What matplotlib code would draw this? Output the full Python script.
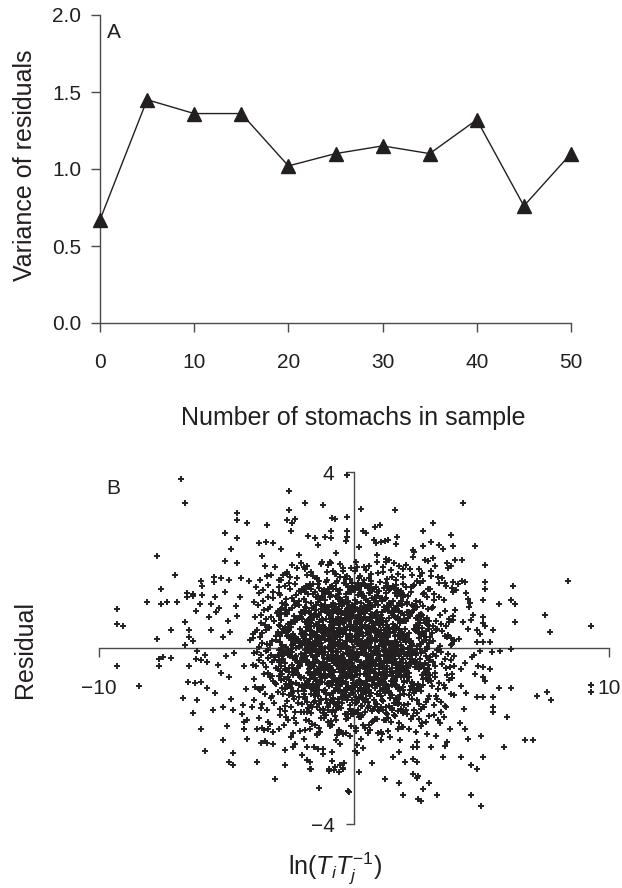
import matplotlib
matplotlib.use("Agg")
import matplotlib.pyplot as plt

# ---- panel A: variance of residuals vs sample size ----
stomachs = [0, 5, 10, 15, 20, 25, 30, 35, 40, 45, 50]
variance = [0.67, 1.45, 1.36, 1.36, 1.02, 1.10, 1.15, 1.10, 1.32, 0.76, 1.10]
a_xticks = [0, 10, 20, 30, 40, 50]
a_yticks = [0.0, 0.5, 1.0, 1.5, 2.0]

# ---- panel B: residuals vs ln(Ti/Tj), estimated from the figure ----
# dense centre, one line per 1.0 x 0.5 cell
core_x = [
    # upper right
    0.12, 0.47, 0.83, 0.31, 0.66, 0.05, 0.94, 0.52, 0.21, 0.74, 0.38, 0.89, 0.15, 0.58, 0.27, 0.71, 0.43, 0.97, 0.09, 0.62, 0.35,
    0.07, 0.44, 0.81, 0.26, 0.63, 0.95, 0.18, 0.55, 0.33, 0.72, 0.02, 0.49, 0.88, 0.23, 0.67, 0.39, 0.91, 0.14,
    0.16, 0.53, 0.87, 0.34, 0.71, 0.04, 0.61, 0.28, 0.96, 0.45, 0.79,
    0.22, 0.68, 0.41, 0.93, 0.09, 0.57,
    1.05, 1.38, 1.72, 1.19, 1.56, 1.91, 1.27, 1.64, 1.83, 1.11, 1.47, 1.99, 1.33, 1.68, 1.02, 1.59, 1.86, 1.24,
    1.13, 1.49, 1.82, 1.28, 1.61, 1.04, 1.95, 1.37, 1.74, 1.21, 1.53, 1.88, 1.09, 1.66,
    1.08, 1.43, 1.77, 1.26, 1.62, 1.94, 1.35, 1.51, 1.86, 1.17,
    1.31, 1.74, 1.12, 1.58, 1.92, 1.45,
    2.08, 2.46, 2.81, 2.23, 2.67, 2.95, 2.14, 2.53, 2.88, 2.36, 2.72, 2.02,
    2.18, 2.57, 2.92, 2.33, 2.74, 2.06, 2.45, 2.85, 2.27, 2.63,
    2.12, 2.58, 2.91, 2.37, 2.76, 2.24,
    2.29, 2.71, 2.05, 2.54,
    3.11, 3.46, 3.82, 3.27, 3.65, 3.04, 3.93,
    3.22, 3.58, 3.89, 3.07, 3.41, 3.73,
    3.15, 3.52, 3.86, 3.34,
    3.28, 3.67,
    # upper left
    -0.09, -0.41, -0.76, -0.23, -0.58, -0.94, -0.15, -0.67, -0.32, -0.85, -0.04, -0.49, -0.71, -0.19, -0.62, -0.98, -0.36, -0.53, -0.81, -0.27, -0.45, -0.88,
    -0.13, -0.52, -0.86, -0.29, -0.64, -0.97, -0.06, -0.43, -0.78, -0.21, -0.59, -0.92, -0.35, -0.71, -0.17, -0.48, -0.83,
    -0.24, -0.61, -0.93, -0.08, -0.47, -0.82, -0.33, -0.69, -0.15, -0.55, -0.99,
    -0.31, -0.74, -0.12, -0.56, -0.89, -0.42, -0.67,
    -1.03, -1.36, -1.69, -1.21, -1.54, -1.88, -1.12, -1.47, -1.79, -1.28, -1.63, -1.95, -1.07, -1.41, -1.74, -1.17, -1.58, -1.91,
    -1.09, -1.44, -1.77, -1.22, -1.57, -1.93, -1.31, -1.66, -1.02, -1.49, -1.84, -1.15, -1.38, -1.71, -1.97,
    -1.14, -1.52, -1.87, -1.26, -1.68, -1.03, -1.41, -1.79, -1.33, -1.95,
    -1.06, -1.47, -1.83, -1.24, -1.62, -1.91, -1.38,
    -2.04, -2.39, -2.73, -2.18, -2.56, -2.91, -2.27, -2.64, -2.97, -2.11, -2.48, -2.83, -2.33,
    -2.09, -2.47, -2.82, -2.26, -2.61, -2.95, -2.15, -2.54, -2.88, -2.36, -2.71,
    -2.16, -2.52, -2.89, -2.31, -2.68, -2.07, -2.94,
    -2.23, -2.61, -2.94, -2.42, -2.78,
    -3.06, -3.43, -3.79, -3.21, -3.62, -3.95, -3.33, -3.71,
    -3.13, -3.51, -3.87, -3.28, -3.66, -3.02, -3.44,
    -3.18, -3.57, -3.91, -3.36, -3.74,
    -3.25, -3.69, -3.48,
    # lower left
    -0.06, -0.39, -0.72, -0.18, -0.55, -0.91, -0.27, -0.63, -0.96, -0.11, -0.47, -0.84, -0.34, -0.68, -0.02, -0.51, -0.79, -0.22, -0.58, -0.87, -0.43,
    -0.14, -0.49, -0.83, -0.26, -0.61, -0.94, -0.08, -0.42, -0.77, -0.31, -0.66, -0.99, -0.19, -0.54, -0.88, -0.37, -0.72, -0.03,
    -0.21, -0.57, -0.89, -0.04, -0.38, -0.73, -0.16, -0.52, -0.95, -0.29, -0.64, -0.82,
    -0.33, -0.76, -0.11, -0.58, -0.92, -0.45, -0.24,
    -1.07, -1.42, -1.76, -1.19, -1.55, -1.89, -1.31, -1.64, -1.97, -1.13, -1.48, -1.82, -1.25, -1.59, -1.04, -1.37, -1.71, -1.93,
    -1.11, -1.46, -1.81, -1.27, -1.63, -1.98, -1.05, -1.39, -1.72, -1.18, -1.54, -1.89, -1.33, -1.67, -1.92,
    -1.09, -1.44, -1.79, -1.22, -1.58, -1.93, -1.35, -1.69, -1.01, -1.51, -1.86,
    -1.16, -1.53, -1.87, -1.34, -1.71, -1.02,
    -2.07, -2.43, -2.78, -2.21, -2.59, -2.93, -2.14, -2.51, -2.86, -2.32, -2.69, -2.98,
    -2.12, -2.48, -2.84, -2.27, -2.63, -2.96, -2.38, -2.73, -2.05, -2.55,
    -2.19, -2.56, -2.91, -2.34, -2.72, -2.08, -2.45,
    -2.26, -2.67, -2.93, -2.41,
    -3.09, -3.45, -3.81, -3.23, -3.64, -3.97, -3.36, -3.72,
    -3.16, -3.53, -3.88, -3.31, -3.69, -3.04,
    -3.21, -3.62, -3.94, -3.43,
    -3.29, -3.74, -3.51,
    # lower right
    0.04, 0.37, 0.71, 0.19, 0.54, 0.88, 0.26, 0.63, 0.97, 0.11, 0.46, 0.82, 0.33, 0.68, 0.02, 0.57, 0.93, 0.24, 0.49, 0.76, 0.15, 0.85,
    0.11, 0.46, 0.79, 0.23, 0.58, 0.93, 0.06, 0.41, 0.74, 0.29, 0.64, 0.97, 0.17, 0.52, 0.86, 0.35, 0.69, 0.03,
    0.19, 0.55, 0.91, 0.07, 0.42, 0.77, 0.28, 0.63, 0.96, 0.13, 0.49, 0.84,
    0.27, 0.71, 0.08, 0.53, 0.89, 0.36, 0.62,
    1.03, 1.39, 1.74, 1.16, 1.52, 1.87, 1.28, 1.61, 1.95, 1.09, 1.45, 1.81, 1.22, 1.57, 1.91, 1.34, 1.68, 1.06,
    1.07, 1.43, 1.78, 1.24, 1.59, 1.94, 1.12, 1.47, 1.83, 1.31, 1.66, 1.02, 1.38, 1.73, 1.96,
    1.14, 1.49, 1.85, 1.27, 1.63, 1.97, 1.36, 1.71, 1.05, 1.56,
    1.19, 1.57, 1.92, 1.35, 1.76, 1.08,
    2.03, 2.41, 2.76, 2.19, 2.57, 2.92, 2.28, 2.64, 2.98, 2.12, 2.49, 2.84,
    2.14, 2.52, 2.87, 2.31, 2.68, 2.07, 2.43, 2.79, 2.24, 2.96,
    2.17, 2.55, 2.89, 2.36, 2.73, 2.09, 2.47,
    2.22, 2.63, 2.95, 2.44, 2.81,
    3.08, 3.44, 3.79, 3.26, 3.61, 3.93, 3.17,
    3.19, 3.55, 3.86, 3.33, 3.71, 3.05,
    3.24, 3.59, 3.92, 3.41, 3.12,
    3.31, 3.76, 3.54,
]
core_y = [
    # upper right
    0.08, 0.33, 0.17, 0.45, 0.02, 0.26, 0.39, 0.11, 0.21, 0.48, 0.06, 0.29, 0.41, 0.14, 0.36, 0.23, 0.47, 0.04, 0.18, 0.42, 0.27,
    0.62, 0.91, 0.54, 0.77, 0.69, 0.58, 0.85, 0.97, 0.51, 0.73, 0.88, 0.64, 0.79, 0.56, 0.93, 0.71, 0.82, 0.67,
    1.21, 1.07, 1.38, 1.46, 1.13, 1.32, 1.02, 1.27, 1.19, 1.43, 1.09,
    1.63, 1.52, 1.84, 1.71, 1.95, 1.58,
    0.41, 0.12, 0.29, 0.03, 0.37, 0.22, 0.46, 0.09, 0.33, 0.19, 0.01, 0.44, 0.26, 0.14, 0.31, 0.48, 0.07, 0.38,
    0.58, 0.83, 0.66, 0.94, 0.51, 0.76, 0.62, 0.99, 0.71, 0.87, 0.55, 0.79, 0.68, 0.92,
    1.12, 1.34, 1.03, 1.47, 1.24, 1.16, 1.41, 1.06, 1.29, 1.37,
    1.56, 1.68, 1.83, 1.93, 1.61, 1.77,
    0.27, 0.05, 0.39, 0.17, 0.46, 0.11, 0.34, 0.23, 0.02, 0.43, 0.31, 0.14,
    0.72, 0.56, 0.88, 0.95, 0.64, 0.81, 0.53, 0.69, 0.98, 0.77,
    1.18, 1.05, 1.33, 1.44, 1.26, 1.39,
    1.65, 1.53, 1.88, 1.79,
    0.16, 0.38, 0.07, 0.44, 0.25, 0.33, 0.19,
    0.61, 0.84, 0.73, 0.92, 0.55, 0.67,
    1.23, 1.08, 1.36, 1.47,
    1.62, 1.81,
    # upper left
    0.14, 0.37, 0.05, 0.28, 0.46, 0.19, 0.41, 0.09, 0.32, 0.24, 0.48, 0.02, 0.35, 0.21, 0.12, 0.43, 0.07, 0.26, 0.39, 0.17, 0.31, 0.01,
    0.53, 0.78, 0.66, 0.89, 0.57, 0.74, 0.96, 0.61, 0.84, 0.71, 0.99, 0.52, 0.68, 0.93, 0.81, 0.63, 0.87,
    1.04, 1.29, 1.16, 1.42, 1.08, 1.35, 1.22, 1.48, 1.31, 1.11, 1.26,
    1.57, 1.69, 1.82, 1.61, 1.93, 1.74, 1.52,
    0.21, 0.44, 0.06, 0.33, 0.15, 0.39, 0.01, 0.27, 0.48, 0.11, 0.36, 0.23, 0.42, 0.08, 0.29, 0.47, 0.03, 0.18,
    0.67, 0.52, 0.84, 0.95, 0.73, 0.59, 0.88, 0.64, 0.79, 0.97, 0.55, 0.91, 0.76, 0.69, 0.82,
    1.09, 1.27, 1.41, 1.18, 1.03, 1.35, 1.46, 1.22, 1.14, 1.31,
    1.72, 1.58, 1.86, 1.96, 1.64, 1.79, 1.53,
    0.33, 0.09, 0.42, 0.21, 0.47, 0.14, 0.01, 0.28, 0.36, 0.44, 0.19, 0.06, 0.25,
    0.81, 0.59, 0.92, 0.68, 0.77, 0.53, 0.97, 0.86, 0.64, 0.73, 0.99,
    1.07, 1.34, 1.21, 1.46, 1.12, 1.28, 1.39,
    1.59, 1.73, 1.55, 1.88, 1.67,
    0.27, 0.08, 0.41, 0.16, 0.33, 0.22, 0.47, 0.03,
    0.62, 0.87, 0.71, 0.94, 0.56, 0.79, 0.66,
    1.14, 1.31, 1.05, 1.43, 1.24,
    1.66, 1.54, 1.87,
    # lower left
    -0.19, -0.42, -0.07, -0.31, -0.24, -0.46, -0.12, -0.36, -0.03, -0.28, -0.49, -0.16, -0.39, -0.09, -0.44, -0.21, -0.33, -0.01, -0.47, -0.26, -0.14,
    -0.57, -0.81, -0.64, -0.93, -0.72, -0.53, -0.86, -0.68, -0.97, -0.59, -0.78, -0.62, -0.91, -0.55, -0.74, -0.99, -0.84, -0.66,
    -1.06, -1.33, -1.19, -1.44, -1.02, -1.27, -1.38, -1.11, -1.24, -1.49, -1.15, -1.41,
    -1.62, -1.55, -1.78, -1.89, -1.67, -1.96, -1.51,
    -0.36, -0.11, -0.47, -0.22, -0.04, -0.31, -0.43, -0.17, -0.27, -0.49, -0.08, -0.39, -0.14, -0.33, -0.24, -0.02, -0.45, -0.19,
    -0.63, -0.89, -0.56, -0.77, -0.94, -0.68, -0.82, -0.52, -0.71, -0.98, -0.61, -0.85, -0.74, -0.58, -0.91,
    -1.17, -1.04, -1.36, -1.48, -1.23, -1.11, -1.42, -1.29, -1.33, -1.07, -1.45,
    -1.58, -1.74, -1.63, -1.91, -1.84, -1.69,
    -0.13, -0.38, -0.24, -0.46, -0.07, -0.31, -0.42, -0.19, -0.03, -0.27, -0.48, -0.16,
    -0.66, -0.91, -0.58, -0.79, -0.86, -0.63, -0.97, -0.71, -0.83, -0.54,
    -1.24, -1.07, -1.39, -1.16, -1.31, -1.46, -1.02,
    -1.71, -1.56, -1.83, -1.94,
    -0.21, -0.44, -0.09, -0.32, -0.17, -0.39, -0.04, -0.28,
    -0.74, -0.59, -0.88, -0.67, -0.95, -0.81,
    -1.09, -1.27, -1.18, -1.41,
    -1.72, -1.59, -1.86,
    # lower right
    -0.23, -0.04, -0.37, -0.15, -0.44, -0.09, -0.31, -0.19, -0.48, -0.27, -0.01, -0.41, -0.12, -0.34, -0.46, -0.25, -0.06, -0.39, -0.17, -0.29, -0.43, -0.11,
    -0.61, -0.87, -0.54, -0.76, -0.95, -0.68, -0.83, -0.59, -0.72, -0.91, -0.65, -0.81, -0.98, -0.57, -0.69, -0.79, -0.52, -0.88,
    -1.13, -1.37, -1.04, -1.26, -1.45, -1.18, -1.31, -1.08, -1.41, -1.22, -1.02, -1.34,
    -1.56, -1.68, -1.81, -1.93, -1.61, -1.74, -1.87,
    -0.29, -0.07, -0.42, -0.18, -0.35, -0.02, -0.47, -0.24, -0.13, -0.38, -0.21, -0.46, -0.09, -0.32, -0.41, -0.16, -0.04, -0.44,
    -0.72, -0.55, -0.89, -0.63, -0.81, -0.96, -0.58, -0.76, -0.67, -0.92, -0.53, -0.85, -0.99, -0.61, -0.74,
    -1.21, -1.06, -1.38, -1.47, -1.14, -1.29, -1.02, -1.43, -1.33, -1.25,
    -1.64, -1.52, -1.79, -1.88, -1.71, -1.95,
    -0.35, -0.12, -0.46, -0.26, -0.03, -0.39, -0.17, -0.43, -0.21, -0.08, -0.31, -0.49,
    -0.57, -0.82, -0.69, -0.93, -0.61, -0.75, -0.98, -0.54, -0.86, -0.71,
    -1.06, -1.28, -1.15, -1.42, -1.33, -1.49, -1.19,
    -1.62, -1.77, -1.54, -1.91, -1.69,
    -0.14, -0.36, -0.27, -0.05, -0.45, -0.19, -0.41,
    -0.66, -0.91, -0.58, -0.79, -0.73, -0.87,
    -1.16, -1.34, -1.07, -1.46, -1.29,
    -1.64, -1.83, -1.57,
]

# second, interleaved layer of the dense centre
fill_x = [
    # upper right
    0.03, 0.29, 0.56, 0.84, 0.17, 0.42, 0.71, 0.95, 0.36, 0.61, 0.08, 0.88, 0.24, 0.50, 0.77, 0.13, 0.39, 0.66, 0.92, 0.47, 0.19, 0.58,
    0.42, 0.71, 0.95, 0.36, 0.61, 0.08, 0.88, 0.24, 0.50, 0.77, 0.13, 0.39, 0.66, 0.92, 0.47, 0.19, 0.58, 0.03, 0.29, 0.56,
    0.08, 0.88, 0.24, 0.50, 0.77, 0.13, 0.39, 0.66, 0.92, 0.47, 0.19, 0.58, 0.03, 0.29,
    0.13, 0.39, 0.66, 0.92, 0.47, 0.19, 0.58, 0.03,
    1.84, 1.17, 1.42, 1.71, 1.95, 1.36, 1.61, 1.08, 1.88, 1.24, 1.50, 1.77, 1.13, 1.39, 1.66, 1.92, 1.47, 1.19, 1.58, 1.03,
    1.07, 1.33, 1.61, 1.89, 1.15, 1.48, 1.74, 1.26, 1.53, 1.81, 1.11, 1.39, 1.68, 1.94, 1.22, 1.57, 1.85, 1.02,
    1.74, 1.26, 1.53, 1.81, 1.11, 1.39, 1.68, 1.94, 1.22, 1.57, 1.85, 1.02,
    1.24, 1.50, 1.77, 1.13, 1.39, 1.66, 1.92,
    2.15, 2.48, 2.74, 2.26, 2.53, 2.81, 2.11, 2.39, 2.68, 2.94, 2.22, 2.57, 2.85, 2.02, 2.44,
    2.56, 2.84, 2.17, 2.42, 2.71, 2.95, 2.36, 2.61, 2.08, 2.88, 2.24, 2.50,
    2.22, 2.57, 2.85, 2.02, 2.44, 2.70, 2.31, 2.97, 2.07,
    2.66, 2.92, 2.47, 2.19, 2.58,
    3.81, 3.11, 3.39, 3.68, 3.94, 3.22, 3.57, 3.85,
    3.71, 3.95, 3.36, 3.61, 3.08, 3.88,
    3.33, 3.61, 3.89, 3.15,
    3.47, 3.02,
    # upper left
    -0.07, -0.33, -0.61, -0.89, -0.15, -0.48, -0.74, -0.26, -0.53, -0.81, -0.11, -0.39, -0.68, -0.94, -0.22, -0.57, -0.85, -0.02, -0.44, -0.70, -0.31, -0.97,
    -0.95, -0.36, -0.61, -0.08, -0.88, -0.24, -0.50, -0.77, -0.13, -0.39, -0.66, -0.92, -0.47, -0.19, -0.58, -0.03, -0.29, -0.56, -0.84, -0.17,
    -0.53, -0.81, -0.11, -0.39, -0.68, -0.94, -0.22, -0.57, -0.85, -0.02, -0.44, -0.70, -0.31, -0.97,
    -0.29, -0.56, -0.84, -0.17, -0.42, -0.71, -0.95, -0.36,
    -1.88, -1.24, -1.50, -1.77, -1.13, -1.39, -1.66, -1.92, -1.47, -1.19, -1.58, -1.03, -1.29, -1.56, -1.84, -1.17, -1.42, -1.71, -1.95, -1.36,
    -1.89, -1.15, -1.48, -1.74, -1.26, -1.53, -1.81, -1.11, -1.39, -1.68, -1.94, -1.22, -1.57, -1.85, -1.02, -1.44, -1.70, -1.31,
    -1.17, -1.42, -1.71, -1.95, -1.36, -1.61, -1.08, -1.88, -1.24, -1.50, -1.77, -1.13,
    -1.85, -1.02, -1.44, -1.70, -1.31, -1.97, -1.07,
    -2.77, -2.13, -2.39, -2.66, -2.92, -2.47, -2.19, -2.58, -2.03, -2.29, -2.56, -2.84, -2.17, -2.42, -2.71,
    -2.68, -2.94, -2.22, -2.57, -2.85, -2.02, -2.44, -2.70, -2.31, -2.97, -2.07, -2.33,
    -2.03, -2.29, -2.56, -2.84, -2.17, -2.42, -2.71, -2.95, -2.36,
    -2.61, -2.08, -2.88, -2.24, -2.50,
    -3.44, -3.70, -3.31, -3.97, -3.07, -3.33, -3.61, -3.89,
    -3.24, -3.50, -3.77, -3.13, -3.39, -3.66,
    -3.19, -3.58, -3.84, -3.36,
    -3.42, -3.09,
    # lower left
    -0.61, -0.08, -0.88, -0.24, -0.50, -0.77, -0.13, -0.39, -0.66, -0.92, -0.47, -0.19, -0.58, -0.03, -0.29, -0.56, -0.84, -0.17, -0.42, -0.71, -0.95, -0.36,
    -0.48, -0.74, -0.26, -0.53, -0.81, -0.11, -0.39, -0.68, -0.94, -0.22, -0.57, -0.85, -0.02, -0.44, -0.70, -0.31, -0.97, -0.07, -0.33, -0.61,
    -0.84, -0.17, -0.42, -0.71, -0.95, -0.36, -0.61, -0.08, -0.88, -0.24, -0.50, -0.77, -0.13, -0.39,
    -0.94, -0.22, -0.57, -0.85, -0.02, -0.44, -0.70, -0.31,
    -1.61, -1.89, -1.15, -1.48, -1.74, -1.26, -1.53, -1.81, -1.11, -1.39, -1.68, -1.94, -1.22, -1.57, -1.85, -1.02, -1.44, -1.70, -1.31, -1.97,
    -1.50, -1.77, -1.13, -1.39, -1.66, -1.92, -1.47, -1.19, -1.58, -1.03, -1.29, -1.56, -1.84, -1.17, -1.42, -1.71, -1.95, -1.36,
    -1.11, -1.39, -1.68, -1.94, -1.22, -1.57, -1.85, -1.02, -1.44, -1.70, -1.31, -1.97,
    -1.28, -1.63, -1.91, -1.09, -1.46, -1.75, -1.37,
    -2.26, -2.53, -2.81, -2.11, -2.39, -2.68, -2.94, -2.22, -2.57, -2.85, -2.02, -2.44, -2.70, -2.31, -2.97,
    -2.39, -2.66, -2.92, -2.47, -2.19, -2.58, -2.03, -2.29, -2.56, -2.84, -2.17, -2.42,
    -2.14, -2.49, -2.78, -2.33, -2.62, -2.91, -2.05, -2.41, -2.70,
    -2.36, -2.74, -2.11, -2.57, -2.89,
    -3.12, -3.47, -3.83, -3.26, -3.58, -3.91, -3.05, -3.39,
    -3.21, -3.56, -3.92, -3.37, -3.74, -3.08,
    -3.27, -3.65, -3.13, -3.49,
    -3.38, -3.17,
    # lower right
    0.39, 0.68, 0.94, 0.22, 0.57, 0.85, 0.02, 0.44, 0.70, 0.31, 0.97, 0.07, 0.33, 0.61, 0.89, 0.15, 0.48, 0.74, 0.26, 0.53, 0.81, 0.11,
    0.92, 0.47, 0.19, 0.58, 0.03, 0.29, 0.56, 0.84, 0.17, 0.42, 0.71, 0.95, 0.36, 0.61, 0.08, 0.88, 0.24, 0.50, 0.77, 0.13,
    0.02, 0.44, 0.70, 0.31, 0.97, 0.07, 0.33, 0.61, 0.89, 0.15, 0.48, 0.74, 0.26, 0.53,
    0.18, 0.45, 0.73, 0.96, 0.33, 0.59, 0.07, 0.84,
    1.19, 1.58, 1.03, 1.29, 1.56, 1.84, 1.17, 1.42, 1.71, 1.95, 1.36, 1.61, 1.08, 1.88, 1.24, 1.50, 1.77, 1.13, 1.39, 1.66,
    1.31, 1.97, 1.07, 1.33, 1.61, 1.89, 1.15, 1.48, 1.74, 1.26, 1.53, 1.81, 1.11, 1.39, 1.68, 1.94, 1.22, 1.57,
    1.06, 1.37, 1.64, 1.92, 1.21, 1.49, 1.78, 1.14, 1.43, 1.71, 1.98, 1.29,
    1.25, 1.61, 1.88, 1.04, 1.47, 1.73, 1.35,
    2.06, 2.42, 2.77, 2.18, 2.55, 2.89, 2.31, 2.64, 2.96, 2.11, 2.47, 2.83, 2.25, 2.61, 2.39,
    2.13, 2.49, 2.84, 2.26, 2.62, 2.97, 2.35, 2.71, 2.04, 2.56, 2.91, 2.19,
    2.27, 2.63, 2.94, 2.12, 2.48, 2.81, 2.36, 2.71, 2.05,
    2.32, 2.68, 2.16, 2.53, 2.87,
    3.09, 3.43, 3.78, 3.21, 3.56, 3.92, 3.34, 3.67,
    3.16, 3.51, 3.85, 3.29, 3.64, 3.02,
    3.23, 3.58, 3.41, 3.81,
    3.36, 3.14,
]
fill_y = [
    # upper right
    0.44, 0.12, 0.31, 0.03, 0.27, 0.48, 0.16, 0.38, 0.07, 0.22, 0.41, 0.33, 0.05, 0.19, 0.46, 0.28, 0.10, 0.36, 0.24, 0.01, 0.43, 0.14,
    0.53, 0.77, 0.98, 0.66, 0.88, 0.57, 0.72, 0.91, 0.83, 0.55, 0.69, 0.96, 0.78, 0.60, 0.86, 0.74, 0.51, 0.93, 0.64, 0.94,
    1.38, 1.07, 1.22, 1.41, 1.33, 1.05, 1.19, 1.46, 1.28, 1.10, 1.36, 1.24, 1.01, 1.43,
    1.83, 1.55, 1.69, 1.96, 1.78, 1.60, 1.86, 1.74,
    0.22, 0.41, 0.33, 0.05, 0.19, 0.46, 0.28, 0.10, 0.36, 0.24, 0.01, 0.43, 0.14, 0.44, 0.12, 0.31, 0.03, 0.27, 0.48, 0.16,
    0.59, 0.85, 0.71, 0.97, 0.52, 0.79, 0.64, 0.90, 0.75, 0.56, 0.82, 0.68, 0.95, 0.61, 0.87, 0.73, 0.99, 0.54,
    1.29, 1.14, 1.40, 1.25, 1.06, 1.32, 1.18, 1.45, 1.11, 1.37, 1.23, 1.49,
    1.95, 1.61, 1.87, 1.73, 1.99, 1.54, 1.80,
    0.19, 0.46, 0.28, 0.10, 0.36, 0.24, 0.01, 0.43, 0.14, 0.44, 0.12, 0.31, 0.03, 0.27, 0.48,
    0.75, 0.56, 0.82, 0.68, 0.95, 0.61, 0.87, 0.73, 0.99, 0.54, 0.80, 0.66,
    1.27, 1.48, 1.16, 1.38, 1.07, 1.22, 1.41, 1.33, 1.05,
    1.71, 1.97, 1.52, 1.79, 1.64,
    0.23, 0.49, 0.04, 0.30, 0.16, 0.42, 0.27, 0.09,
    0.60, 0.86, 0.74, 0.51, 0.93, 0.64,
    1.16, 1.42, 1.27, 1.09,
    1.58, 1.76,
    # upper left
    0.48, 0.16, 0.38, 0.07, 0.22, 0.41, 0.33, 0.05, 0.19, 0.46, 0.28, 0.10, 0.36, 0.24, 0.01, 0.43, 0.14, 0.44, 0.12, 0.31, 0.03, 0.27,
    0.59, 0.85, 0.71, 0.97, 0.52, 0.79, 0.64, 0.90, 0.75, 0.56, 0.82, 0.68, 0.95, 0.61, 0.87, 0.73, 0.99, 0.54, 0.80, 0.66,
    1.31, 1.03, 1.27, 1.48, 1.16, 1.38, 1.07, 1.22, 1.41, 1.33, 1.05, 1.19, 1.46, 1.28,
    1.64, 1.90, 1.75, 1.56, 1.82, 1.68, 1.95, 1.61,
    0.47, 0.02, 0.29, 0.14, 0.40, 0.25, 0.06, 0.32, 0.18, 0.45, 0.11, 0.37, 0.23, 0.49, 0.04, 0.30, 0.16, 0.42, 0.27, 0.09,
    0.91, 0.83, 0.55, 0.69, 0.96, 0.78, 0.60, 0.86, 0.74, 0.51, 0.93, 0.64, 0.94, 0.62, 0.81, 0.53, 0.77, 0.98,
    1.32, 1.18, 1.45, 1.11, 1.37, 1.23, 1.49, 1.04, 1.30, 1.16, 1.42, 1.27,
    1.66, 1.88, 1.57, 1.72, 1.91, 1.83, 1.55,
    0.44, 0.12, 0.31, 0.03, 0.27, 0.48, 0.16, 0.38, 0.07, 0.22, 0.41, 0.33, 0.05, 0.19, 0.46,
    0.87, 0.73, 0.99, 0.54, 0.80, 0.66, 0.92, 0.77, 0.59, 0.85, 0.71, 0.97,
    1.35, 1.21, 1.47, 1.02, 1.29, 1.14, 1.40, 1.25, 1.06,
    1.68, 1.93, 1.54, 1.81, 1.62,
    0.40, 0.25, 0.06, 0.32, 0.18, 0.45, 0.11, 0.37,
    0.71, 0.53, 0.98, 0.62, 0.89, 0.76,
    1.28, 1.06, 1.39, 1.17,
    1.63, 1.85,
    # lower left
    -0.09, -0.35, -0.21, -0.47, -0.02, -0.29, -0.14, -0.40, -0.25, -0.06, -0.32, -0.18, -0.45, -0.11, -0.37, -0.23, -0.49, -0.04, -0.30, -0.16, -0.42, -0.27,
    -0.57, -0.72, -0.91, -0.83, -0.55, -0.69, -0.96, -0.78, -0.60, -0.86, -0.74, -0.51, -0.93, -0.64, -0.94, -0.62, -0.81, -0.53, -0.77, -0.98,
    -1.02, -1.29, -1.14, -1.40, -1.25, -1.06, -1.32, -1.18, -1.45, -1.11, -1.37, -1.23, -1.49, -1.04,
    -1.78, -1.60, -1.86, -1.74, -1.51, -1.93, -1.64, -1.94,
    -0.05, -0.19, -0.46, -0.28, -0.10, -0.36, -0.24, -0.01, -0.43, -0.14, -0.44, -0.12, -0.31, -0.03, -0.27, -0.48, -0.16, -0.38, -0.07, -0.22,
    -0.56, -0.82, -0.68, -0.95, -0.61, -0.87, -0.73, -0.99, -0.54, -0.80, -0.66, -0.92, -0.77, -0.59, -0.85, -0.71, -0.97, -0.52,
    -1.03, -1.27, -1.48, -1.16, -1.38, -1.07, -1.22, -1.41, -1.33, -1.05, -1.19, -1.46,
    -1.59, -1.72, -1.86, -1.53, -1.97, -1.66, -1.81,
    -0.18, -0.45, -0.11, -0.37, -0.23, -0.49, -0.04, -0.30, -0.16, -0.42, -0.27, -0.09, -0.35, -0.21, -0.47,
    -0.62, -0.81, -0.53, -0.77, -0.98, -0.66, -0.88, -0.57, -0.72, -0.91, -0.83, -0.55,
    -1.12, -1.34, -1.05, -1.46, -1.21, -1.38, -1.27, -1.09, -1.43,
    -1.58, -1.76, -1.89, -1.63, -1.52,
    -0.28, -0.06, -0.41, -0.17, -0.34, -0.12, -0.46, -0.23,
    -0.63, -0.88, -0.71, -0.56, -0.94, -0.79,
    -1.14, -1.36, -1.25, -1.05,
    -1.68, -1.91,
    # lower right
    -0.38, -0.07, -0.22, -0.41, -0.33, -0.05, -0.19, -0.46, -0.28, -0.10, -0.36, -0.24, -0.01, -0.43, -0.14, -0.44, -0.12, -0.31, -0.03, -0.27, -0.48, -0.16,
    -0.61, -0.87, -0.73, -0.99, -0.54, -0.80, -0.66, -0.92, -0.77, -0.59, -0.85, -0.71, -0.97, -0.52, -0.79, -0.64, -0.90, -0.75, -0.56, -0.82,
    -1.24, -1.01, -1.43, -1.14, -1.44, -1.12, -1.31, -1.03, -1.27, -1.48, -1.16, -1.38, -1.07, -1.22,
    -1.57, -1.81, -1.66, -1.93, -1.52, -1.75, -1.88, -1.62,
    -0.04, -0.30, -0.16, -0.42, -0.27, -0.09, -0.35, -0.21, -0.47, -0.02, -0.29, -0.14, -0.40, -0.25, -0.06, -0.32, -0.18, -0.45, -0.11, -0.37,
    -0.96, -0.78, -0.60, -0.86, -0.74, -0.51, -0.93, -0.64, -0.94, -0.62, -0.81, -0.53, -0.77, -0.98, -0.66, -0.88, -0.57, -0.72,
    -1.08, -1.31, -1.19, -1.46, -1.03, -1.37, -1.24, -1.42, -1.13, -1.28, -1.05, -1.49,
    -1.63, -1.54, -1.79, -1.92, -1.68, -1.85, -1.58,
    -0.41, -0.15, -0.33, -0.04, -0.47, -0.22, -0.09, -0.38, -0.27, -0.45, -0.02, -0.18, -0.36, -0.11, -0.29,
    -0.66, -0.91, -0.58, -0.79, -0.97, -0.62, -0.84, -0.71, -0.53, -0.88, -0.75, -0.95,
    -1.17, -1.39, -1.08, -1.28, -1.47, -1.22, -1.03, -1.33, -1.42,
    -1.55, -1.71, -1.84, -1.62, -1.96,
    -0.31, -0.08, -0.44, -0.19, -0.26, -0.41, -0.03, -0.14,
    -0.57, -0.83, -0.69, -0.94, -0.62, -0.76,
    -1.09, -1.31, -1.22, -1.04,
    -1.71, -1.53,
]

# third layer, only where the cloud is solid black
dense_x = [
    # upper right
    0.05, 0.37, 0.64, 0.91, 0.22, 0.49, 0.78, 0.13, 0.58, 0.86, 0.31, 0.69, 0.02, 0.44, 0.97, 0.26, 0.53, 0.81, 0.16, 0.62,
    0.22, 0.49, 0.78, 0.13, 0.58, 0.86, 0.31, 0.69, 0.02, 0.44, 0.97, 0.26, 0.53, 0.81, 0.16, 0.62, 0.39, 0.74,
    0.31, 0.69, 0.02, 0.44, 0.97, 0.26, 0.53, 0.81, 0.16, 0.62,
    1.64, 1.91, 1.22, 1.49, 1.78, 1.13, 1.58, 1.86, 1.31, 1.69, 1.02, 1.44, 1.97, 1.26, 1.53, 1.81, 1.16, 1.62,
    1.78, 1.13, 1.58, 1.86, 1.31, 1.69, 1.02, 1.44, 1.97, 1.26, 1.53, 1.81, 1.16, 1.62, 1.39, 1.74,
    1.09, 1.46, 1.83, 1.27, 1.64, 1.95, 1.38, 1.71,
    2.02, 2.44, 2.97, 2.26, 2.53, 2.81, 2.16, 2.62, 2.39, 2.74,
    2.11, 2.47, 2.83, 2.29, 2.66, 2.05, 2.38, 2.92,
    # upper left
    -0.64, -0.91, -0.22, -0.49, -0.78, -0.13, -0.58, -0.86, -0.31, -0.69, -0.02, -0.44, -0.97, -0.26, -0.53, -0.81, -0.16, -0.62, -0.39, -0.74,
    -0.05, -0.37, -0.64, -0.91, -0.22, -0.49, -0.78, -0.13, -0.58, -0.86, -0.31, -0.69, -0.02, -0.44, -0.97, -0.26, -0.53, -0.81,
    -0.18, -0.54, -0.87, -0.33, -0.71, -0.06, -0.46, -0.92, -0.25, -0.63,
    -1.22, -1.49, -1.78, -1.13, -1.58, -1.86, -1.31, -1.69, -1.02, -1.44, -1.97, -1.26, -1.53, -1.81, -1.16, -1.62, -1.39, -1.74,
    -1.05, -1.37, -1.64, -1.91, -1.22, -1.49, -1.78, -1.13, -1.58, -1.86, -1.31, -1.69, -1.02, -1.44, -1.97, -1.26,
    -1.12, -1.43, -1.79, -1.24, -1.61, -1.93, -1.35, -1.68,
    -2.08, -2.43, -2.77, -2.19, -2.56, -2.91, -2.31, -2.65, -2.14, -2.48,
    -2.13, -2.52, -2.86, -2.24, -2.67, -2.04, -2.41, -2.95,
    # lower left
    -0.37, -0.64, -0.91, -0.22, -0.49, -0.78, -0.13, -0.58, -0.86, -0.31, -0.69, -0.02, -0.44, -0.97, -0.26, -0.53, -0.81, -0.16, -0.62, -0.39,
    -0.91, -0.22, -0.49, -0.78, -0.13, -0.58, -0.86, -0.31, -0.69, -0.02, -0.44, -0.97, -0.26, -0.53, -0.81, -0.16, -0.62, -0.39,
    -0.27, -0.61, -0.94, -0.12, -0.48, -0.83, -0.36, -0.72, -0.05, -0.57,
    -1.91, -1.22, -1.49, -1.78, -1.13, -1.58, -1.86, -1.31, -1.69, -1.02, -1.44, -1.97, -1.26, -1.53, -1.81, -1.16, -1.62, -1.39,
    -1.49, -1.78, -1.13, -1.58, -1.86, -1.31, -1.69, -1.02, -1.44, -1.97, -1.26, -1.53, -1.81, -1.16, -1.62, -1.39,
    -1.07, -1.41, -1.76, -1.29, -1.63, -1.95, -1.18, -1.52,
    -2.05, -2.39, -2.74, -2.21, -2.58, -2.93, -2.12, -2.46, -2.82, -2.33,
    -2.17, -2.54, -2.88, -2.29, -2.71, -2.06, -2.42, -2.97,
    # lower right
    0.64, 0.91, 0.22, 0.49, 0.78, 0.13, 0.58, 0.86, 0.31, 0.69, 0.02, 0.44, 0.97, 0.26, 0.53, 0.81, 0.16, 0.62, 0.39, 0.74,
    0.05, 0.37, 0.64, 0.91, 0.22, 0.49, 0.78, 0.13, 0.58, 0.86, 0.31, 0.69, 0.02, 0.44, 0.97, 0.26, 0.53, 0.81,
    0.24, 0.58, 0.91, 0.07, 0.43, 0.76, 0.35, 0.67, 0.14, 0.85,
    1.37, 1.64, 1.91, 1.22, 1.49, 1.78, 1.13, 1.58, 1.86, 1.31, 1.69, 1.02, 1.44, 1.97, 1.26, 1.53, 1.81, 1.16,
    1.22, 1.49, 1.78, 1.13, 1.58, 1.86, 1.31, 1.69, 1.02, 1.44, 1.97, 1.26, 1.53, 1.81, 1.16, 1.62,
    1.11, 1.48, 1.82, 1.25, 1.66, 1.94, 1.37, 1.73,
    2.07, 2.41, 2.78, 2.23, 2.59, 2.94, 2.15, 2.49, 2.86, 2.32,
    2.14, 2.51, 2.87, 2.28, 2.69, 2.03, 2.44, 2.96,
]
dense_y = [
    # upper right
    0.26, 0.04, 0.45, 0.19, 0.33, 0.08, 0.41, 0.29, 0.02, 0.36, 0.17, 0.48, 0.24, 0.11, 0.31, 0.06, 0.43, 0.21, 0.35, 0.15,
    0.63, 0.88, 0.76, 0.54, 0.95, 0.69, 0.83, 0.58, 0.91, 0.79, 0.52, 0.86, 0.67, 0.98, 0.74, 0.61, 0.81, 0.56,
    1.19, 1.33, 1.08, 1.41, 1.29, 1.02, 1.36, 1.17, 1.48, 1.24,
    0.45, 0.19, 0.33, 0.08, 0.41, 0.29, 0.02, 0.36, 0.17, 0.48, 0.24, 0.11, 0.31, 0.06, 0.43, 0.21, 0.35, 0.15,
    0.83, 0.58, 0.91, 0.79, 0.52, 0.86, 0.67, 0.98, 0.74, 0.61, 0.81, 0.56, 0.93, 0.71, 0.85, 0.65,
    1.14, 1.37, 1.06, 1.26, 1.44, 1.21, 1.03, 1.32,
    0.13, 0.38, 0.26, 0.04, 0.45, 0.19, 0.33, 0.08, 0.41, 0.29,
    0.68, 0.93, 0.57, 0.81, 0.74, 0.62, 0.96, 0.53,
    # upper left
    0.13, 0.38, 0.26, 0.04, 0.45, 0.19, 0.33, 0.08, 0.41, 0.29, 0.02, 0.36, 0.17, 0.48, 0.24, 0.11, 0.31, 0.06, 0.43, 0.21,
    0.95, 0.69, 0.83, 0.58, 0.91, 0.79, 0.52, 0.86, 0.67, 0.98, 0.74, 0.61, 0.81, 0.56, 0.93, 0.71, 0.85, 0.65,
    1.27, 1.09, 1.42, 1.16, 1.34, 1.48, 1.03, 1.21, 1.38, 1.12,
    0.26, 0.04, 0.45, 0.19, 0.33, 0.08, 0.41, 0.29, 0.02, 0.36, 0.17, 0.48, 0.24, 0.11, 0.31, 0.06, 0.43, 0.21,
    0.83, 0.58, 0.91, 0.79, 0.52, 0.86, 0.67, 0.98, 0.74, 0.61, 0.81, 0.56, 0.93, 0.71, 0.85, 0.65,
    1.22, 1.05, 1.39, 1.13, 1.46, 1.28, 1.09, 1.34,
    0.31, 0.07, 0.44, 0.18, 0.26, 0.49, 0.12, 0.37, 0.03, 0.22,
    0.72, 0.55, 0.89, 0.64, 0.97, 0.81, 0.59, 0.76,
    # lower left
    -0.38, -0.26, -0.04, -0.45, -0.19, -0.33, -0.08, -0.41, -0.29, -0.02, -0.36, -0.17, -0.48, -0.24, -0.11, -0.31, -0.06, -0.43, -0.21, -0.35,
    -0.63, -0.88, -0.76, -0.54, -0.95, -0.69, -0.83, -0.58, -0.91, -0.79, -0.52, -0.86, -0.67, -0.98, -0.74, -0.61, -0.81, -0.56,
    -1.18, -1.36, -1.07, -1.44, -1.25, -1.13, -1.49, -1.31, -1.02, -1.22,
    -0.04, -0.45, -0.19, -0.33, -0.08, -0.41, -0.29, -0.02, -0.36, -0.17, -0.48, -0.24, -0.11, -0.31, -0.06, -0.43, -0.21, -0.35,
    -0.76, -0.54, -0.95, -0.69, -0.83, -0.58, -0.91, -0.79, -0.52, -0.86, -0.67, -0.98, -0.74, -0.61, -0.81, -0.56,
    -1.26, -1.08, -1.43, -1.17, -1.35, -1.04, -1.48, -1.21,
    -0.22, -0.46, -0.09, -0.35, -0.14, -0.28, -0.41, -0.03, -0.19, -0.49,
    -0.61, -0.87, -0.73, -0.55, -0.94, -0.68, -0.82, -0.99,
    # lower right
    -0.26, -0.04, -0.45, -0.19, -0.33, -0.08, -0.41, -0.29, -0.02, -0.36, -0.17, -0.48, -0.24, -0.11, -0.31, -0.06, -0.43, -0.21, -0.35, -0.15,
    -0.54, -0.95, -0.69, -0.83, -0.58, -0.91, -0.79, -0.52, -0.86, -0.67, -0.98, -0.74, -0.61, -0.81, -0.56, -0.93, -0.71, -0.85,
    -1.11, -1.32, -1.05, -1.46, -1.23, -1.38, -1.15, -1.02, -1.41, -1.28,
    -0.13, -0.38, -0.26, -0.04, -0.45, -0.19, -0.33, -0.08, -0.41, -0.29, -0.02, -0.36, -0.17, -0.48, -0.24, -0.11, -0.31, -0.06,
    -0.69, -0.83, -0.58, -0.91, -0.79, -0.52, -0.86, -0.67, -0.98, -0.74, -0.61, -0.81, -0.56, -0.93, -0.71, -0.85,
    -1.19, -1.41, -1.07, -1.33, -1.24, -1.47, -1.02, -1.15,
    -0.18, -0.43, -0.07, -0.31, -0.25, -0.47, -0.12, -0.36, -0.02, -0.29,
    -0.66, -0.91, -0.57, -0.78, -0.84, -0.62, -0.97, -0.72,
]

# ring around the centre
ring_x = [
    4.12, 4.35, 4.58, 4.21, 4.47, 4.69, 4.08, 4.31, 4.83, 4.16, 4.52, 4.74,
    -4.09, -4.33, -4.57, -4.24, -4.48, -4.71, -4.13, -4.36, -4.86, -4.19, -4.62, -4.91, -5.14, -5.32, -5.05, -5.41,
    -3.62, -2.87, -2.14, -1.43, -0.72, 0.18, 0.91, 1.64, 2.35, 3.08, -1.12, 0.46, 1.27, -0.31,
    -3.48, -2.71, -1.96, -1.21, -0.53, 0.37, 1.06, 1.78, 2.47, 3.21, -0.88, 0.72, 1.42, -1.58,
]
ring_y = [
    0.21, -0.33, 0.64, -0.87, 1.12, -0.15, 1.46, -1.38, 0.42, -1.71, 0.93, -0.58,
    0.18, -0.41, 0.72, -0.93, 1.17, -0.12, 1.52, -1.29, 0.37, -1.64, 0.96, -0.66, 0.24, -0.38, 1.28, 0.81,
    2.08, 2.26, 2.11, 2.34, 2.17, 2.29, 2.12, 2.37, 2.19, 2.04, 2.52, 2.61, 2.03, 2.44,
    -2.12, -2.31, -2.07, -2.42, -2.18, -2.27, -2.09, -2.36, -2.14, -2.01, -2.56, -2.61, -2.02, -2.24,
]

# sparse outer points read one by one
edge_x = [
    -6.80, -6.64, -7.74, -7.02, -7.58, -4.60, -4.60, -4.21, -3.42, -5.07,
    -4.60, -4.84, -5.07, -4.60, -2.56, -2.56, -1.92, -1.22, -2.62, -2.45,
    -2.30, -2.48, -0.87, -0.75, -0.91, -0.91, -1.80, -1.53, -3.72, -3.45,
    -3.19, -5.50, -5.20, -5.50, -4.90, -4.45, -6.00, -6.56, -6.33,
    -0.26, 0.26, 1.61, 4.26, -0.29, -0.29, -0.29, 0.34, 0.82, 1.00,
    1.67, 0.80, 1.05, 0.85, 1.22, 1.35, 3.09, 2.69, 3.79, 3.35,
    3.50, 3.90, 3.00, 2.69, 4.75, 2.30, 2.30, 2.78, 3.18, 3.63,
    3.79, 3.96, 4.22, 5.14, 3.00, 3.57, 3.90, 4.22, 4.35, 5.14,
    5.14, 6.22, 8.40, 4.00, 4.40,
    5.07, 5.70, 6.14, 6.31, 7.49, 6.31, 7.69, 9.28, 5.44, 4.68,
    5.07, 5.07, 5.12, 4.48, 4.81, 5.07, 5.33, 4.94, 5.40, 5.73,
    6.14, 4.86, 5.07, 5.33, 5.07, 5.14, 6.14, 5.70, 7.16, 7.58,
    7.71, 9.28, 9.28, 4.81, 5.07, 5.44, 5.44, 5.44, 5.99, 4.35,
    6.71, 7.00, 5.90, 3.63, 3.57, 4.48, 3.00, 1.54, 1.80, 4.98,
    3.48, 4.20, 5.05, 2.30, 2.48, 2.00, 2.30, 2.48, 4.57, 4.81,
    2.30, 2.48, 2.52, 1.22, 1.78, 2.93, 2.69, 1.91, 3.24, 4.57,
    2.52, 2.62, 4.97, 0.20, 0.27, 0.10, 0.12, -1.37, -0.25, -0.18,
    -0.98, -0.75, -0.55, -0.45, -0.40, -1.73, -1.73,
    -6.01, -4.99, -5.84, -5.15, -4.76, -4.89, -4.73, -4.21, -3.82, -4.31,
    -4.31, -3.82, -3.60, -3.36, -3.66, -3.43, -3.19, -2.71, -3.10, -2.48,
    -2.40, -2.31, -2.03, -1.85, -1.70, -1.85, -1.40, -0.99, -0.80, -0.60,
    -0.45, -1.45, -1.20, -0.85, -0.70, -0.66, -0.15, 0.05,
    -9.31, -9.31, -9.07, -8.13, -7.58, -7.35, -6.95, -6.55, -6.33, -7.19,
    -7.74, -9.28, -8.44, -7.65, -7.50, -7.19, -7.65, -6.48, -6.63, -6.48,
    -6.48, -6.63, -6.50, -6.25, -6.00, -5.78, -6.72, -6.17, -6.33, -5.54,
    -5.15, -4.76, -4.40, -4.01, -6.17, -6.20, -6.00, -5.84, -6.30, -6.20,
    -6.05, -5.95, -5.95, -5.60, -5.45, -5.30,
    -5.62, -5.21, -5.78, -4.95, -5.47, -5.03, -5.69, -4.83,
    4.62, 4.27, 4.41, 4.93, 4.18, 4.55,
]
edge_y = [
    3.85, 3.30, 2.08, 1.67, 1.35, 3.07, 2.90, 2.85, 2.80, 2.62,
    2.50, 2.25, 1.98, 1.94, 3.57, 3.13, 3.30, 3.25, 2.90, 2.85,
    2.93, 2.67, 2.95, 2.93, 2.67, 2.51, 2.54, 2.50, 2.38, 2.40,
    2.38, 1.62, 1.58, 1.50, 1.55, 1.60, 1.53, 1.25, 1.22,
    3.94, 3.16, 3.13, 3.30, 2.97, 2.67, 2.52, 2.67, 2.75, 2.80,
    2.53, 2.45, 2.40, 2.38, 2.43, 2.46, 2.85, 2.67, 2.57, 2.35,
    2.25, 2.31, 2.40, 2.31, 2.31, 2.22, 2.06, 1.99, 1.86, 1.94,
    1.86, 1.99, 1.99, 1.89, 1.63, 1.48, 1.50, 1.52, 1.49, 1.50,
    1.35, 1.40, 1.53, 1.31, 1.25,
    1.08, 0.99, 1.08, 0.99, 0.76, 0.58, 0.36, 0.49, 0.40, 0.76,
    0.70, 0.56, 0.51, 0.44, 0.13, 0.13, 0.13, -0.06, -0.08, -0.06,
    -0.03, -0.40, -0.44, -0.47, -0.66, -0.75, -0.91, -0.91, -1.10, -1.00,
    -1.19, -0.85, -1.00, -1.12, -1.12, -1.12, -1.33, -1.46, -1.56, -1.84,
    -2.10, -2.10, -2.24, -2.14, -2.22, -2.06, -2.24, -2.47, -2.10, -2.00,
    -2.47, -2.47, -2.47, -2.24, -2.24, -2.60, -2.52, -2.60, -2.65, -2.74,
    -2.86, -2.95, -2.90, -2.97, -3.06, -3.06, -3.20, -3.33, -3.33, -3.33,
    -3.43, -3.47, -3.60, -2.82, -2.06, -2.20, -2.38, -3.18, -3.24, -3.28,
    -2.74, -2.70, -2.67, -2.72, -2.62, -2.60, -2.74,
    -1.84, -1.78, -2.33, -2.10, -2.38, -2.60, -2.65, -2.06, -2.60, -1.69,
    -1.83, -1.84, -1.82, -1.84, -2.15, -2.17, -2.19, -2.65, -2.97, -2.03,
    -2.24, -2.18, -2.44, -2.54, -2.74, -2.24, -2.30, -2.80, -2.78, -2.82,
    -2.76, -1.95, -2.30, -2.37, -2.10, -1.98, -2.00, -2.35,
    0.89, 0.55, 0.49, 1.04, 0.99, 1.04, 1.04, 1.15, 1.19, 0.40,
    0.21, -0.42, -0.87, -0.24, -0.20, -0.22, -0.42, -0.42, 0.59, 0.40,
    0.25, 0.06, -0.78, -0.80, -0.78, -0.92, -1.13, -1.18, -1.48, -1.40,
    -1.35, -1.40, -1.51, -1.35, -0.06, -0.24, -0.28, -0.15, 0.17, 0.85,
    1.00, 1.20, 1.40, 1.00, 1.15, 0.90,
    0.42, -0.57, -0.31, 0.61, -1.02, -0.18, 0.71, -1.15,
    -0.21, 0.58, -1.02, 0.31, -0.47, 1.03,
]
b_xticks = [-10, 10]
b_yticks = [-4, 4]

INK = "#231f20"
AXIS = "#4a4a4a"

plt.rcParams["font.family"] = ["Liberation Sans", "DejaVu Sans"]
plt.rcParams["mathtext.fontset"] = "custom"
plt.rcParams["mathtext.rm"] = "Liberation Sans"
plt.rcParams["mathtext.it"] = "Liberation Sans:italic"
plt.rcParams["text.color"] = INK

W, H = 622, 888
fig = plt.figure(figsize=(W / 100, H / 100), dpi=100)

# Panel A
axA = fig.add_axes([100 / W, 1 - 323 / H, 471 / W, 308 / H])
axA.plot(stomachs, variance, color=INK, lw=1.0, marker="^", ms=9.5,
         mfc=INK, mec=INK, clip_on=False, zorder=3)
axA.set_xlim(0, 50)
axA.set_ylim(0, 2)
axA.set_xticks(a_xticks)
axA.set_yticks(a_yticks)
axA.set_yticklabels([f"{v:.1f}" for v in a_yticks])
for s in ["top", "right"]:
    axA.spines[s].set_visible(False)
for s in ["left", "bottom"]:
    axA.spines[s].set_color(AXIS)
    axA.spines[s].set_linewidth(1.0)
axA.tick_params(axis="both", direction="out", length=6.5, width=1.0,
                color=AXIS, labelsize=15, labelcolor=INK)
axA.tick_params(axis="x", pad=15)
axA.tick_params(axis="y", pad=7)
fig.text(114 / W, 1 - 33 / H, "A", fontsize=15, ha="center", va="center")
fig.text(353 / W, 1 - 418 / H, "Number of stomachs in sample",
         fontsize=18, ha="center", va="center")
fig.text(25 / W, 1 - 165 / H, "Variance of residuals", fontsize=18,
         rotation=90, ha="center", va="center")

# Panel B
axB = fig.add_axes([99 / W, 1 - 824 / H, 510 / W, 352 / H])
all_x = core_x + fill_x + dense_x + ring_x + edge_x
all_y = core_y + fill_y + dense_y + ring_y + edge_y
axB.plot(all_x, all_y, ls="none", marker="+", ms=4.3, mew=1.4, color=INK,
         clip_on=False, zorder=3)
axB.set_xlim(-10, 10)
axB.set_ylim(-4, 4)
axB.spines["left"].set_position(("data", 0))
axB.spines["bottom"].set_position(("data", 0))
for s in ["top", "right"]:
    axB.spines[s].set_visible(False)
for s in ["left", "bottom"]:
    axB.spines[s].set_color(AXIS)
    axB.spines[s].set_linewidth(1.0)
axB.set_xticks(b_xticks)
axB.set_yticks(b_yticks)
axB.tick_params(axis="both", direction="out", width=1.0, color=AXIS,
                labelsize=15, labelcolor=INK)
axB.tick_params(axis="x", length=6.5, pad=16)
axB.tick_params(axis="y", length=6, pad=8)
fig.text(113 / W, 1 - 488 / H, "B", fontsize=15, ha="center", va="center")
fig.text(335 / W, 1 - 868 / H, r"ln($T_iT_j^{-1}$)", fontsize=18,
         ha="center", va="center")
fig.text(25 / W, 1 - 650 / H, "Residual", fontsize=18, rotation=90,
         ha="center", va="center")

fig.savefig("out.png", dpi=100)
